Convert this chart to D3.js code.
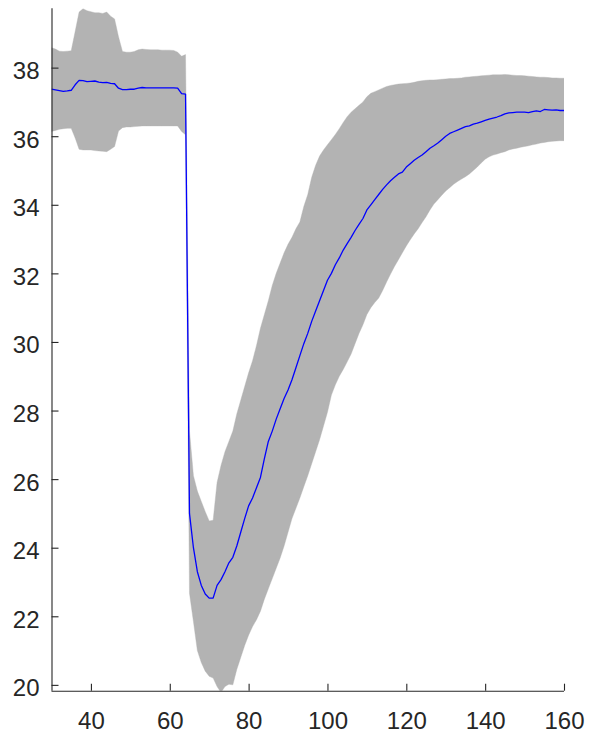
<!DOCTYPE html>
<html>
<head>
<meta charset="utf-8">
<script src="https://cdn.jsdelivr.net/npm/d3@7/dist/d3.min.js"></script>
<style>
  html, body { margin: 0; padding: 0; background: #fff; }
  svg { display: block; }
</style>
</head>
<body>
<svg id="chart" width="589" height="735"></svg>
<script>
// ---- data ----
const time = [
  30,31,32,33,34,35,36,37,38,39,40,41,42,43,44,45,46,47,48,49,
  50,51,52,53,54,55,56,57,58,59,60,61,62,63,64,65,66,67,68,69,
  70,71,72,73,74,75,76,77,78,79,80,81,82,83,84,85,86,87,88,89,
  90,91,92,93,94,95,96,97,98,99,100,101,102,103,104,105,106,107,108,109,
  110,111,112,113,114,115,116,117,118,119,120,121,122,123,124,125,126,127,128,129,
  130,131,132,133,134,135,136,137,138,139,140,141,142,143,144,145,146,147,148,149,
  150,151,152,153,154,155,156,157,158,159,160
];
const meanValues = [
  37.37,37.35,37.33,37.31,37.32,37.34,37.50,37.63,37.62,37.59,
  37.60,37.61,37.58,37.56,37.57,37.54,37.53,37.40,37.36,37.36,
  37.37,37.37,37.40,37.42,37.41,37.41,37.41,37.41,37.41,37.41,
  37.41,37.41,37.40,37.24,37.23,25.00,24.00,23.30,22.90,22.65,
  22.53,22.53,22.90,23.07,23.30,23.56,23.72,24.05,24.45,24.85,
  25.22,25.45,25.75,26.05,26.60,27.10,27.40,27.75,28.05,28.35,
  28.60,28.90,29.25,29.60,29.95,30.25,30.60,30.90,31.20,31.50,
  31.80,32.00,32.25,32.45,32.68,32.87,33.05,33.25,33.43,33.60,
  33.85,34.00,34.15,34.30,34.45,34.58,34.70,34.80,34.90,34.95,
  35.10,35.20,35.30,35.38,35.45,35.55,35.65,35.72,35.80,35.90,
  36.00,36.08,36.13,36.18,36.23,36.28,36.30,36.35,36.38,36.42,
  36.46,36.50,36.53,36.56,36.60,36.65,36.68,36.69,36.70,36.70,
  36.70,36.69,36.72,36.74,36.72,36.78,36.77,36.76,36.77,36.75,36.75
];
const upperValues = [
  38.58,38.54,38.48,38.47,38.48,38.49,39.05,39.62,39.72,39.66,
  39.63,39.60,39.60,39.58,39.62,39.50,39.42,38.90,38.47,38.45,
  38.45,38.47,38.52,38.54,38.53,38.52,38.52,38.52,38.51,38.51,
  38.51,38.50,38.45,38.33,38.38,27.40,26.10,25.65,25.35,25.05,
  24.78,24.80,25.90,26.40,26.80,27.10,27.40,27.90,28.30,28.70,
  29.10,29.45,29.90,30.40,30.80,31.20,31.65,32.00,32.30,32.60,
  32.85,33.05,33.30,33.50,33.95,34.30,34.80,35.15,35.42,35.60,
  35.75,35.90,36.05,36.22,36.40,36.57,36.70,36.80,36.90,37.00,
  37.15,37.25,37.30,37.35,37.40,37.45,37.48,37.50,37.52,37.53,
  37.54,37.55,37.57,37.60,37.62,37.63,37.64,37.64,37.65,37.66,
  37.67,37.68,37.68,37.69,37.70,37.72,37.73,37.74,37.75,37.76,
  37.77,37.78,37.79,37.79,37.79,37.80,37.79,37.78,37.77,37.77,
  37.76,37.75,37.74,37.73,37.72,37.72,37.71,37.70,37.70,37.69,37.69
];
const lowerValues = [
  36.14,36.17,36.20,36.22,36.23,36.23,35.95,35.62,35.60,35.60,
  35.60,35.58,35.57,35.56,35.55,35.62,35.70,36.15,36.25,36.27,
  36.27,36.28,36.29,36.30,36.30,36.30,36.30,36.30,36.30,36.30,
  36.30,36.30,36.30,36.14,36.04,22.67,21.85,21.00,20.65,20.40,
  20.25,20.20,19.95,19.78,19.95,20.02,20.00,20.45,20.80,21.15,
  21.45,21.70,21.90,22.15,22.50,22.80,23.10,23.40,23.70,24.05,
  24.45,24.85,25.15,25.45,25.78,26.10,26.45,26.80,27.15,27.55,
  27.95,28.45,28.75,29.00,29.20,29.42,29.65,29.95,30.25,30.50,
  30.80,31.00,31.15,31.28,31.50,31.75,31.98,32.20,32.40,32.60,
  32.80,32.98,33.15,33.30,33.48,33.65,33.85,34.02,34.15,34.28,
  34.40,34.50,34.60,34.68,34.75,34.82,34.90,35.00,35.10,35.22,
  35.33,35.40,35.45,35.48,35.52,35.55,35.60,35.63,35.65,35.68,
  35.70,35.72,35.75,35.77,35.80,35.82,35.84,35.85,35.86,35.87,35.87
];
const xTicks = [40, 60, 80, 100, 120, 140, 160];
const yTicks = [20, 22, 24, 26, 28, 30, 32, 34, 36, 38];
const xDomain = [30, 160];
const yDomain = [19.83, 39.73];

// ---- layout ----
const plotLeft = 51.5, plotRight = 564, plotTop = 8.3, plotBottom = 690.7;
const axisColor = "#262626";
const fontFamily = "'Liberation Sans', Arial, Helvetica, sans-serif";

const svg = d3.select("#chart");
const x = d3.scaleLinear().domain(xDomain).range([plotLeft, plotRight]);
const y = d3.scaleLinear().domain(yDomain).range([plotBottom, plotTop]);

const rows = time.map((t, i) => ({ t, m: meanValues[i], lo: lowerValues[i], hi: upperValues[i] }));

svg.append("defs").append("clipPath").attr("id", "plotclip")
  .append("rect").attr("x", plotLeft).attr("y", plotTop)
  .attr("width", plotRight - plotLeft).attr("height", plotBottom - plotTop);

const plot = svg.append("g").attr("clip-path", "url(#plotclip)");

const band = d3.area()
  .x(d => x(d.t))
  .y0(d => y(d.lo))
  .y1(d => y(d.hi));

plot.append("path")
  .datum(rows)
  .attr("d", band)
  .attr("fill", "#b3b3b3")
  .attr("stroke", "#b3b3b3")
  .attr("stroke-width", 0.4);

const line = d3.line().x(d => x(d.t)).y(d => y(d.m));
plot.append("path")
  .datum(rows)
  .attr("d", line)
  .attr("fill", "none")
  .attr("stroke", "#0000ff")
  .attr("stroke-width", 1.3)
  .attr("stroke-linejoin", "round");

// ---- axes ----
const xAxis = d3.axisBottom(x).tickValues(xTicks).tickSize(-7).tickPadding(0).tickFormat(d3.format("d"));
const yAxis = d3.axisLeft(y).tickValues(yTicks).tickSize(-7).tickPadding(0).tickFormat(d3.format("d"));

const gx = svg.append("g").attr("transform", `translate(0,${plotBottom})`).call(xAxis);
const gy = svg.append("g").attr("transform", `translate(${plotLeft},0)`).call(yAxis);

[gx, gy].forEach(g => {
  g.select(".domain").attr("stroke", axisColor).attr("stroke-width", 1.1);
  g.selectAll(".tick line").attr("stroke", axisColor).attr("stroke-width", 1.1);
  g.selectAll(".tick text")
    .attr("fill", axisColor)
    .style("font-family", fontFamily)
    .style("font-size", "24px");
});
gx.select(".domain").attr("d", `M${plotLeft},0.5H${plotRight}`);
gy.select(".domain").attr("d", `M0.5,${plotTop}V${plotBottom}`);

gx.selectAll(".tick text").attr("y", 38).attr("dy", 0);
gy.selectAll(".tick text").attr("x", -12).attr("dy", 0).attr("y", 11);
</script>
</body>
</html>
